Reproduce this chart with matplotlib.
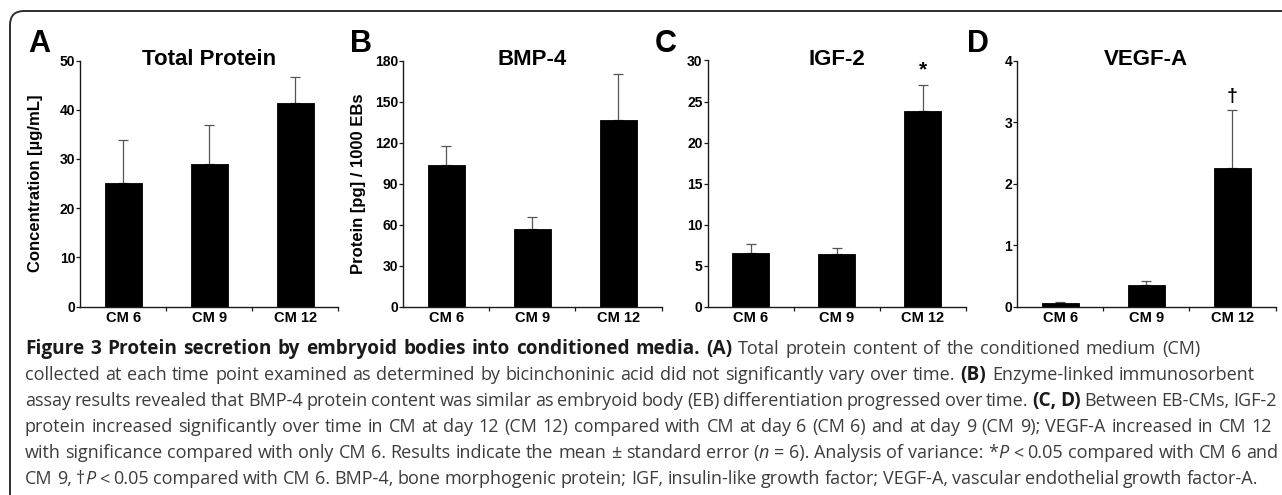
import matplotlib
matplotlib.use('Agg')
import matplotlib.pyplot as plt
from matplotlib.patches import FancyBboxPatch
from matplotlib.font_manager import FontProperties

W, H = 1282, 495
DPI = 100

# ---------------- data ----------------
categories = ['CM 6', 'CM 9', 'CM 12']
total_protein = [25.2, 28.9, 41.4]
total_protein_err = [8.6, 7.9, 5.3]
bmp4 = [103.3, 57.1, 136.7]
bmp4_err = [13.9, 8.6, 33.1]
igf2 = [6.6, 6.4, 23.8]
igf2_err = [1.06, 0.8, 3.2]
vegfa = [0.065, 0.35, 2.26]
vegfa_err = [0.015, 0.06, 0.93]

panel_letters = ['A', 'B', 'C', 'D']
titles = ['Total Protein', 'BMP-4', 'IGF-2', 'VEGF-A']
ylabels = ['Concentration [µg/mL]', 'Protein [pg] / 1000 EBs', '', '']
ymax = [50, 180, 30, 4]
ystep = [10, 30, 5, 1]
sig_marks = ['', '', '*', '†']   # placed over CM 12

values = [total_protein, bmp4, igf2, vegfa]
errors = [total_protein_err, bmp4_err, igf2_err, vegfa_err]

caption_lines = [
    [("Figure 3 Protein secretion by embryoid bodies into conditioned media. (A)", 'b', 'n'),
     (" Total protein content of the conditioned medium (CM)", 'r', 'n')],
    [("collected at each time point examined as determined by bicinchoninic acid did not significantly vary over time. ", 'r', 'n'),
     ("(B)", 'b', 'n'), (" Enzyme-linked immunosorbent", 'r', 'n')],
    [("assay results revealed that BMP-4 protein content was similar as embryoid body (EB) differentiation progressed over time. ", 'r', 'n'),
     ("(C, D)", 'b', 'n'), (" Between EB-CMs, IGF-2", 'r', 'n')],
    [("protein increased significantly over time in CM at day 12 (CM 12) compared with CM at day 6 (CM 6) and at day 9 (CM 9); VEGF-A increased in CM 12", 'r', 'n')],
    [("with significance compared with only CM 6. Results indicate the mean \u00b1 standard error (", 'r', 'n'),
     ("n", 'r', 'i'), (" = 6). Analysis of variance: *", 'r', 'n'), ("P", 'r', 'i'),
     (" < 0.05 compared with CM 6 and", 'r', 'n')],
    [("CM 9, \u2020", 'r', 'n'), ("P", 'r', 'i'),
     (" < 0.05 compared with CM 6. BMP-4, bone morphogenic protein; IGF, insulin-like growth factor; VEGF-A, vascular endothelial growth factor-A.", 'r', 'n')],
]
caption_line_ends = [1200, 1255, 1277, 1272, 1278, 1258]

# ---------------- layout (pixels) ----------------
ax_lefts = [80, 403, 707.5, 1017]
ax_width = 258.5
ax_top = 60.5
ax_bottom = 306.7

plt.rcParams['font.family'] = ['Liberation Sans', 'DejaVu Sans']
fig = plt.figure(figsize=(W / DPI, H / DPI), dpi=DPI)
fig.patch.set_facecolor('white')

axis_color = '#1a1a1a'

for i in range(4):
    l = ax_lefts[i] / W
    b = 1 - ax_bottom / H
    w = ax_width / W
    h = (ax_bottom - ax_top) / H
    ax = fig.add_axes([l, b, w, h])
    x = list(range(len(categories)))
    ax.errorbar(x, values[i], yerr=[[0] * 3, errors[i]], fmt='none',
                ecolor='#555555', elinewidth=0.9, capsize=3.4, capthick=0.9, zorder=1)
    ax.bar(x, values[i], width=0.43, color='black', edgecolor='black', linewidth=0.6, zorder=2)
    ax.set_xlim(-0.5, 2.5)
    ax.set_ylim(0, ymax[i])
    ax.set_yticks([ystep[i] * k for k in range(int(round(ymax[i] / ystep[i])) + 1)])
    ax.set_xticks(x)
    ax.set_xticklabels(categories, fontsize=10.5, fontweight='bold')
    ax.set_xticks([0.5, 1.5, 2.5], minor=True)
    ax.tick_params(axis='x', which='major', length=0, pad=3)
    ax.tick_params(axis='x', which='minor', length=3, width=0.9, direction='out', color=axis_color)
    ax.tick_params(axis='y', which='major', length=3, width=0.9, direction='out', pad=0.5,
                   labelsize=10, color=axis_color)
    for lab in ax.get_yticklabels():
        lab.set_fontweight('bold')
    for s in ['top', 'right']:
        ax.spines[s].set_visible(False)
    for s in ['left', 'bottom']:
        ax.spines[s].set_linewidth(1.0)
        ax.spines[s].set_color(axis_color)
    ax.patch.set_alpha(0)

    # title
    ax.text(0.5, 1 - 4.5 / (ax_bottom - ax_top), titles[i], transform=ax.transAxes,
            ha='center', va='baseline', fontsize=16, fontweight='bold')
    # y label
    if ylabels[i]:
        ax.text(-44.5 / ax_width, 0.5, ylabels[i], transform=ax.transAxes, rotation=90,
                ha='center', va='center', fontsize=12, fontweight='bold')
    # significance mark
    if sig_marks[i]:
        top = values[i][2] + errors[i][2]
        ax.annotate(sig_marks[i], xy=(2, top), xytext=(0, 4), textcoords='offset points',
                    ha='center', va='bottom', fontsize=15 if sig_marks[i] == '*' else 14,
                    fontweight='bold', family=['Liberation Sans', 'DejaVu Sans'])

# panel letters
letter_x = [28, 350, 655, 967]
for i in range(4):
    fig.text(letter_x[i] / W, 1 - 52 / H, panel_letters[i], fontsize=22, fontweight='bold',
             ha='left', va='baseline')

# frame (rounded top-left)
frame = FancyBboxPatch((10, -200), 1500, H - 11 + 200, boxstyle='round,pad=0,rounding_size=14',
                       transform=None, facecolor='none', edgecolor='#2e2e2e', linewidth=1.4)
fig.add_artist(frame)

# caption (word-by-word, justified to the reference line ends)
cap_family = ['Open Sans', 'DejaVu Sans']
cap_size = 13.0
cap_bold_size = 13.7
renderer = fig.canvas.get_renderer()


def seg_width(txt, prop):
    w1, _, _ = renderer.get_text_width_height_descent('x' + txt + 'x', prop, ismath=False)
    w0, _, _ = renderer.get_text_width_height_descent('xx', prop, ismath=False)
    return w1 - w0


def make_prop(wt, st):
    return FontProperties(family=cap_family,
                          size=cap_bold_size if wt == 'b' else cap_size,
                          weight='bold' if wt == 'b' else 'normal',
                          style='italic' if st == 'i' else 'normal')


baselines = [354, 380, 406, 432, 458, 484]
x_start = 25
for line, yb, xend in zip(caption_lines, baselines, caption_line_ends):
    tokens = []
    for txt, wt, st in line:
        prop = make_prop(wt, st)
        parts = txt.split(' ')
        for k, p in enumerate(parts):
            if k > 0:
                tokens.append((' ', prop, True))
            if p:
                tokens.append((p, prop, False))
    widths = [seg_width(t, p) for t, p, _ in tokens]
    natural = sum(widths)
    nspace = sum(1 for t in tokens if t[2])
    extra = (xend - x_start - natural) / nspace if nspace else 0
    xx = x_start
    for (t, p, is_sp), wdt in zip(tokens, widths):
        if is_sp:
            xx += wdt + extra
            continue
        color = '#1a1a1a' if p.get_weight() in ('bold', 700) else '#3c3c3c'
        fig.text(xx / W, 1 - yb / H, t, fontproperties=p, ha='left', va='baseline', color=color)
        xx += wdt

fig.savefig('out.png', dpi=DPI, facecolor='white')
